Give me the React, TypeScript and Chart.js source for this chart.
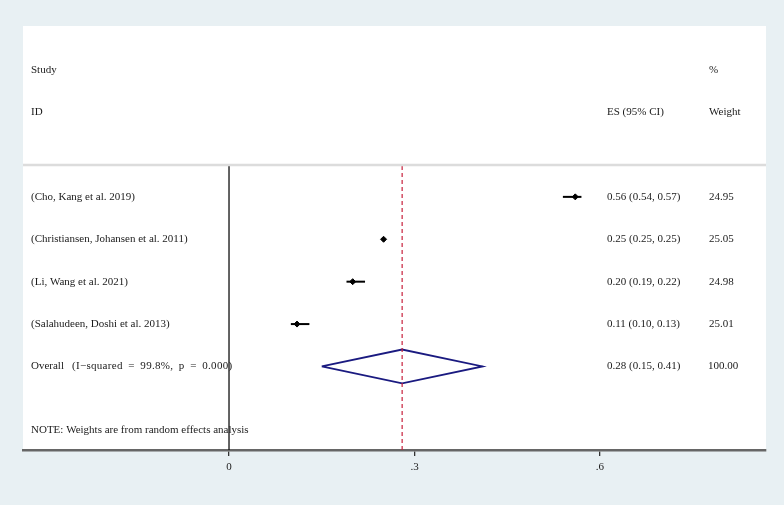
import React, { useEffect, useRef } from "react";
import { Chart, registerables } from "chart.js";

Chart.register(...registerables);

const studies = [
  "(Cho, Kang et al. 2019)",
  "(Christiansen, Johansen et al. 2011)",
  "(Li, Wang et al. 2021)",
  "(Salahudeen, Doshi et al. 2013)",
];
const es = [0.56, 0.25, 0.2, 0.11];
const lo = [0.54, 0.25, 0.19, 0.1];
const hi = [0.57, 0.25, 0.22, 0.13];
const esText = ["0.56 (0.54, 0.57)", "0.25 (0.25, 0.25)", "0.20 (0.19, 0.22)", "0.11 (0.10, 0.13)"];
const weights = ["24.95", "25.05", "24.98", "25.01"];
const overallName = "Overall";
const overallStats = "(I\u2212squared = 99.8%, p = 0.000)";
const overall = { es: 0.28, lo: 0.15, hi: 0.41, text: "0.28 (0.15, 0.41)", weight: "100.00" };
const tickValues = [0, 0.3, 0.6];
const tickLabels = ["0", ".3", ".6"];
const note = "NOTE: Weights are from random effects analysis";

const X_MIN = -0.3332;
const X_MAX = 0.8685;
const Y_MIN = -4.03;
const Y_MAX = 5.97;
const HEADER_LINE = -0.75;
const OVERALL_ROW = studies.length;
const DIAMOND_H = 0.4;

const FONT = "11px 'Liberation Serif', 'DejaVu Serif', serif";

const textPlugin = {
  id: "forestText",
  afterDatasetsDraw(chart: any) {
    const { ctx, chartArea, scales } = chart;
    const y = scales.y;
    const L = chartArea.left;
    ctx.save();
    ctx.font = FONT;
    ctx.fillStyle = "#1a1a1a";
    ctx.textBaseline = "middle";
    ctx.textAlign = "left";
    const xLabel = L + 8;
    const xEs = L + 584;
    const xW = L + 686;
    ctx.fillText("Study", xLabel, y.getPixelForValue(-3));
    ctx.fillText("ID", xLabel, y.getPixelForValue(-2));
    ctx.fillText("%", xW, y.getPixelForValue(-3));
    ctx.fillText("ES (95% CI)", xEs, y.getPixelForValue(-2));
    ctx.fillText("Weight", xW, y.getPixelForValue(-2));
    studies.forEach((s, i) => {
      const py = y.getPixelForValue(i);
      ctx.fillText(s, xLabel, py);
      ctx.fillText(esText[i], xEs, py);
      ctx.fillText(weights[i], xW, py);
    });
    const po = y.getPixelForValue(OVERALL_ROW);
    ctx.fillText(overall.text, xEs, po);
    ctx.fillText(overall.weight, xW - 1, po);
    ctx.fillText(note, xLabel, y.getPixelForValue(OVERALL_ROW + 1.5));
    ctx.fillText(overallName, xLabel, po);
    try {
      (ctx as any).letterSpacing = "0.3px";
      (ctx as any).wordSpacing = "2.5px";
    } catch (e) {}
    ctx.fillText(overallStats, xLabel + 41, po);
    ctx.restore();
  },
};

const bgPlugin = {
  id: "panelBg",
  beforeDraw(chart: any) {
    const { ctx, chartArea } = chart;
    ctx.save();
    ctx.fillStyle = "#ffffff";
    ctx.fillRect(chartArea.left, chartArea.top, chartArea.right - chartArea.left, chartArea.bottom - chartArea.top);
    ctx.restore();
  },
};

export default function App() {
  const ref = useRef<HTMLCanvasElement | null>(null);
  useEffect(() => {
    if (!ref.current) return;
    const lineDs = (data: any[], color: string, width: number, extra: any = {}) => ({
      type: "line",
      data,
      borderColor: color,
      borderWidth: width,
      pointRadius: 0,
      fill: false,
      tension: 0,
      ...extra,
    });
    const datasets: any[] = [
      lineDs(
        [
          { x: X_MIN, y: HEADER_LINE },
          { x: X_MAX, y: HEADER_LINE },
        ],
        "#dcdcdc",
        2.5
      ),
      lineDs(
        [
          { x: 0, y: HEADER_LINE + 0.02 },
          { x: 0, y: Y_MAX },
        ],
        "#111111",
        1.3
      ),
      lineDs(
        [
          { x: overall.es, y: HEADER_LINE + 0.02 },
          { x: overall.es, y: Y_MAX },
        ],
        "#c8203c",
        1.2,
        { borderDash: [4, 3] }
      ),
    ];
    studies.forEach((_, i) => {
      datasets.push(
        lineDs(
          [
            { x: lo[i], y: i },
            { x: hi[i], y: i },
          ],
          "#000000",
          2
        )
      );
    });
    datasets.push({
      type: "scatter",
      data: es.map((v, i) => ({ x: v, y: i })),
      pointStyle: "rectRot",
      pointRadius: 3,
      backgroundColor: "#000000",
      borderColor: "#000000",
      borderWidth: 1,
    });
    datasets.push(
      lineDs(
        [
          { x: overall.lo, y: OVERALL_ROW },
          { x: overall.es, y: OVERALL_ROW - DIAMOND_H },
          { x: overall.hi, y: OVERALL_ROW },
          { x: overall.es, y: OVERALL_ROW + DIAMOND_H },
          { x: overall.lo, y: OVERALL_ROW },
        ],
        "#1a1a80",
        1.8
      )
    );

    const chart = new Chart(ref.current, {
      type: "scatter",
      data: { datasets },
      plugins: [bgPlugin, textPlugin],
      options: {
        animation: false,
        responsive: true,
        maintainAspectRatio: false,
        layout: { padding: { left: 23, right: 18, top: 26, bottom: 0 } },
        plugins: { legend: { display: false }, tooltip: { enabled: false } },
        scales: {
          x: {
            type: "linear",
            min: X_MIN,
            max: X_MAX,
            afterBuildTicks: (scale: any) => {
              scale.ticks = tickValues.map((v) => ({ value: v }));
            },
            afterFit: (scale: any) => {
              scale.height = 55;
            },
            ticks: {
              autoSkip: false,
              maxRotation: 0,
              padding: 5,
              color: "#1a1a1a",
              font: { family: "'Liberation Serif', 'DejaVu Serif', serif", size: 11 },
              callback: (v: any) => {
                const idx = tickValues.indexOf(Number(v));
                return idx >= 0 ? tickLabels[idx] : "";
              },
            },
            grid: {
              display: true,
              drawOnChartArea: false,
              drawTicks: true,
              tickLength: 6,
              color: "#333333",
              lineWidth: 1.3,
            },
            border: { display: true, color: "#666666", width: 2.5 },
          },
          y: {
            type: "linear",
            display: false,
            reverse: true,
            min: Y_MIN,
            max: Y_MAX,
          },
        },
      },
    } as any);
    return () => chart.destroy();
  }, []);
  return (
    <div
      style={{
        position: "fixed",
        left: 0,
        top: 0,
        width: 784,
        height: 505,
        background: "#e8f0f3",
      }}
    >
      <canvas ref={ref} />
    </div>
  );
}
